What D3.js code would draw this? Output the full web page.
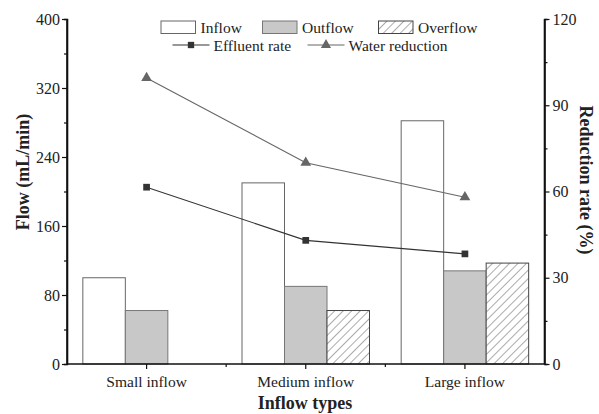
<!DOCTYPE html>
<html><head><meta charset="utf-8">
<script src="https://cdn.jsdelivr.net/npm/d3@7"></script>
<style>
body{margin:0;background:#fff;}
text{font-family:"Liberation Serif","Times New Roman",serif;fill:#222;}
</style></head>
<body><svg id="c" width="599" height="414"></svg>
<script>
const categories = ["Small inflow","Medium inflow","Large inflow"];
const inflow = [100, 210, 282];
const outflow = [62, 90, 108];
const overflow = [0, 62, 117];
const effluentRate = [61.5, 43, 38.3];
const waterReduction = [99.5, 70, 58];
const flowTicks = [0, 80, 160, 240, 320, 400];
const rateTicks = [0, 30, 60, 90, 120];

const svg = d3.select("#c");
const L = 67, R = 544.5, T = 19, B = 364;

const defs = svg.append("defs");
const pat = defs.append("pattern").attr("id","hatch").attr("patternUnits","userSpaceOnUse")
  .attr("width",6).attr("height",6).attr("patternTransform","rotate(45)");
pat.append("rect").attr("width",6).attr("height",6).attr("fill","#fff");
pat.append("line").attr("x1",0).attr("y1",0).attr("x2",0).attr("y2",6).attr("stroke","#444").attr("stroke-width",0.9);

const x = d3.scaleBand().domain(categories).range([L,R]);
const xs = d3.scaleBand().domain(["inflow","outflow","overflow"]).range([0,127.5]);
const yL = d3.scaleLinear().domain([0,400]).range([B,T]);
const yR = d3.scaleLinear().domain([0,120]).range([B,T]);

const series = [
  {key:"inflow", vals:inflow, fill:"#fff", stroke:"#666"},
  {key:"outflow", vals:outflow, fill:"#c8c8c8", stroke:"#777"},
  {key:"overflow", vals:overflow, fill:"url(#hatch)", stroke:"#444"}
];
series.forEach(s=>{
  svg.append("g").selectAll("rect").data(categories.map((c,i)=>({c,v:s.vals[i]})).filter(d=>d.v>0))
    .join("rect")
    .attr("x",d=>x(d.c)+x.bandwidth()/2-63.75+xs(s.key))
    .attr("width",xs.bandwidth())
    .attr("y",d=>yL(d.v)).attr("height",d=>B-yL(d.v))
    .attr("fill",s.fill).attr("stroke",s.stroke).attr("stroke-width",1);
});

// lines
const cx = c => x(c)+x.bandwidth()/2;
function drawLine(vals,color,marker){
  const g = svg.append("g");
  g.append("path").datum(vals).attr("fill","none").attr("stroke",color).attr("stroke-width",1.1)
    .attr("d",d3.line().x((d,i)=>cx(categories[i])).y(d=>yR(d)));
  g.selectAll("path.m").data(vals).join("path").attr("class","m")
    .attr("transform",(d,i)=>`translate(${cx(categories[i])},${yR(d)})`)
    .attr("d",d3.symbol().type(marker==="sq"?d3.symbolSquare:d3.symbolTriangle).size(marker==="sq"?45:50))
    .attr("fill",color);
}
drawLine(effluentRate,"#333","sq");
drawLine(waterReduction,"#666","tri");

// axes
const axL = svg.append("g").attr("transform",`translate(${L},0)`)
  .call(d3.axisLeft(yL).tickValues(flowTicks).tickSize(5).tickPadding(2));
const axLm = svg.append("g").attr("transform",`translate(${L},0)`)
  .call(d3.axisLeft(yL).tickValues([40,120,200,280,360]).tickSize(3).tickFormat(""));
const axR = svg.append("g").attr("transform",`translate(${R},0)`)
  .call(d3.axisRight(yR).tickValues(rateTicks).tickSize(5).tickPadding(3));
const axRm = svg.append("g").attr("transform",`translate(${R},0)`)
  .call(d3.axisRight(yR).tickValues([15,45,75,105]).tickSize(3).tickFormat(""));
const axB = svg.append("g").attr("transform",`translate(0,${B})`)
  .call(d3.axisBottom(x).tickSize(5).tickPadding(7));
svg.append("g").selectAll("line").data(categories.slice(1)).join("line")
  .attr("x1",d=>x(d)).attr("x2",d=>x(d)).attr("y1",B).attr("y2",B+3).attr("stroke","#111").attr("stroke-width",1.2);

[axL,axLm,axR,axRm,axB].forEach(a=>{
  a.select(".domain").attr("stroke","#111").attr("stroke-width",1.6);
  a.selectAll(".tick line").attr("stroke","#111").attr("stroke-width",1.2);
  a.selectAll(".tick text").style("font-family",'"Liberation Serif",serif').style("font-size","16px").attr("fill","#222");
});
axB.selectAll(".tick text").style("font-size","15.5px");
axL.select(".domain").attr("d",`M0,${B}V${T}`);
axR.select(".domain").attr("d",`M0,${B}V${T}`);
axB.select(".domain").attr("d",`M${L},0H${R}`);

// titles
svg.append("text").attr("transform","translate(29,172) rotate(-90)").attr("text-anchor","middle")
  .style("font-size","18px").style("font-weight","bold").text("Flow (mL/min)");
svg.append("text").attr("transform","translate(580,180) rotate(90)").attr("text-anchor","middle")
  .style("font-size","18px").style("font-weight","bold").text("Reduction rate (%)");
svg.append("text").attr("x",305).attr("y",409).attr("text-anchor","middle")
  .style("font-size","18px").style("font-weight","bold").text("Inflow types");

// legend
const lg = svg.append("g");
const boxes = [
  {x:161, label:"Inflow", fill:"#fff", stroke:"#666"},
  {x:262.5, label:"Outflow", fill:"#c8c8c8", stroke:"#777"},
  {x:378.5, label:"Overflow", fill:"url(#hatch)", stroke:"#444"}
];
boxes.forEach(b=>{
  lg.append("rect").attr("x",b.x).attr("y",21).attr("width",34.5).attr("height",12.5)
    .attr("fill",b.fill).attr("stroke",b.stroke).attr("stroke-width",1);
  lg.append("text").attr("x",b.x+39.5).attr("y",33).style("font-size","15.5px").text(b.label);
});
const lines = [
  {x:172.5, label:"Effluent rate", color:"#333", m:"sq"},
  {x:307.5, label:"Water reduction", color:"#666", m:"tri"}
];
lines.forEach(l=>{
  lg.append("line").attr("x1",l.x).attr("x2",l.x+37).attr("y1",45).attr("y2",45).attr("stroke",l.color).attr("stroke-width",1.1);
  lg.append("path").attr("transform",`translate(${l.x+18.5},45)`)
    .attr("d",d3.symbol().type(l.m==="sq"?d3.symbolSquare:d3.symbolTriangle).size(l.m==="sq"?40:45)).attr("fill",l.color);
  lg.append("text").attr("x",l.x+41).attr("y",50.5).style("font-size","15.5px").text(l.label);
});
</script></body></html>
